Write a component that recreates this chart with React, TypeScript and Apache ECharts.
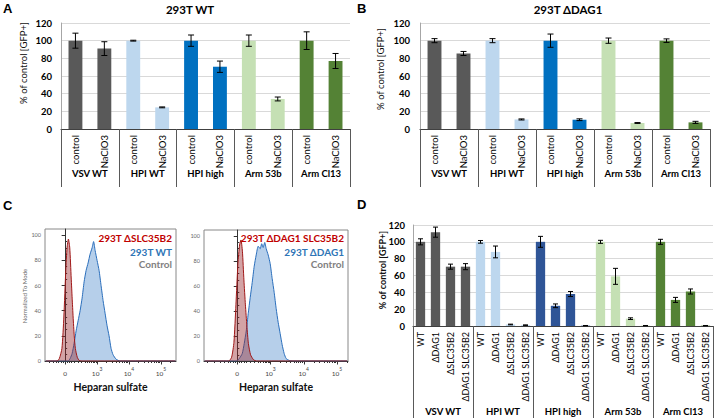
import React, { useEffect, useRef } from "react";
import * as echarts from "echarts";

// ---------- data ----------
const groups = ["VSV WT", "HPI WT", "HPI high", "Arm 53b", "Arm Cl13"];
const treatments = ["control", "NaClO3"];
const strains = ["WT", "ΔDAG1", "ΔSLC35B2", "ΔDAG1 SLC35B2"];

const aValues = [100, 91, 100, 24.5, 100, 70.5, 100, 34, 100, 77];
const aErrors = [8.5, 7.8, 0.5, 0.5, 6.4, 6.4, 6.4, 2.2, 10, 8.5];

const bValues = [100, 85.5, 100, 10.8, 100, 10.5, 100, 6.8, 100, 7.5];
const bErrors = [2.3, 2.3, 2.3, 0.6, 7.5, 1, 3, 0.5, 2, 1.2];

const dValues = [100, 111.5, 70.5, 70.5, 100, 88, 1.8, 1, 100, 24, 38, 0.4, 100, 59, 8.7, 0.4, 100, 31, 41, 0.4];
const dErrors = [3.6, 6, 3, 3.6, 1.6, 7, 0.4, 0.3, 6.5, 2.2, 3, 0.2, 1.8, 9.5, 1, 0.2, 3, 3, 3, 0.2];

const colorsAB = ["#595959", "#BDD7EE", "#0070C0", "#C5E0B4", "#548235"];
const colorsD = ["#595959", "#BDD7EE", "#2F5597", "#C5E0B4", "#548235"];

// histogram data: [display position, % of mode]
const leftRed = [[-0.6, 0], [-0.25, 0], [-0.18, 2], [-0.1, 10], [-0.04, 35], [0.02, 72], [0.06, 90], [0.103, 97], [0.145, 90], [0.19, 66], [0.22, 50], [0.25, 35], [0.285, 20], [0.32, 10], [0.38, 3], [0.44, 0.5], [0.52, 0], [3.45, 0]];
const leftBlue = [[-0.6, 0], [0.094, 0], [0.156, 2], [0.219, 6], [0.281, 14], [0.344, 24], [0.406, 32], [0.469, 40], [0.531, 50], [0.594, 63], [0.656, 72], [0.719, 78], [0.781, 85], [0.844, 90], [0.891, 95], [0.938, 88], [1.0, 80], [1.063, 72], [1.125, 60], [1.188, 48], [1.25, 38], [1.313, 28], [1.375, 20], [1.438, 10], [1.5, 5], [1.594, 1.5], [1.719, 0], [3.45, 0]];
const rightRed = [[-0.98, 0], [-0.26, 0], [-0.17, 3], [-0.1, 15], [-0.04, 45], [0.02, 78], [0.07, 93], [0.111, 97], [0.155, 88], [0.2, 65], [0.245, 45], [0.29, 28], [0.335, 14], [0.4, 5], [0.49, 1], [0.58, 0], [3.3, 0]];
const rightBlue = [[-0.98, 0], [-0.03, 0], [0.06, 2], [0.15, 6], [0.21, 14], [0.27, 24], [0.33, 38], [0.39, 51], [0.45, 63], [0.51, 76], [0.57, 85], [0.63, 92], [0.69, 90], [0.735, 94], [0.78, 91], [0.826, 95], [0.87, 90], [0.93, 85], [0.99, 78], [1.05, 66], [1.11, 55], [1.17, 42], [1.23, 31], [1.29, 22], [1.35, 13], [1.41, 6], [1.47, 2], [1.56, 0.5], [1.65, 0], [3.3, 0]];

const histMajorX = [0, 1, 2, 3];
const histExponents = ["", "3", "4", "5"];
const histMajorY = [0, 20, 40, 60, 80, 100];
const histMinorY = [5, 10, 15, 25, 30, 35, 45, 50, 55, 65, 70, 75, 85, 90, 95];
const histMinorNearZero = [-0.9, -0.7, -0.5, -0.38, -0.28, -0.2, -0.13, -0.07, 0.07, 0.13, 0.2, 0.28, 0.4, 0.52, 0.62, 0.7, 0.77, 0.83, 0.88, 0.92, 0.96];

const FONT = 'Lato, "Noto Sans", sans-serif';

function decadeMinors(maxV: number, minV: number) {
  const out: number[] = [];
  for (const v of histMinorNearZero) if (v > minV && v < maxV) out.push(v);
  for (let d = 1; d <= 3; d++) {
    for (let k = 2; k <= 9; k++) {
      const v = d + Math.log10(k);
      if (v < maxV) out.push(v);
    }
  }
  return out;
}

function errRender(half: number) {
  return (params: any, api: any) => {
    const x = api.value(0);
    const v = api.value(1);
    const e = api.value(2);
    const hi = api.coord([x, v + e]);
    const lo = api.coord([x, v - e]);
    const st = { stroke: "#000", lineWidth: 1 };
    return {
      type: "group",
      children: [
        { type: "line", shape: { x1: hi[0], y1: hi[1], x2: lo[0], y2: lo[1] }, style: st },
        { type: "line", shape: { x1: hi[0] - half, y1: hi[1], x2: hi[0] + half, y2: hi[1] }, style: st },
        { type: "line", shape: { x1: lo[0] - half, y1: lo[1], x2: lo[0] + half, y2: lo[1] }, style: st },
      ],
    };
  };
}

function barPanel(opts: {
  grid: number;
  xBase: number;
  yIndex: number;
  subs: string[];
  values: number[];
  errors: number[];
  colors: string[];
  groupMargin: number;
  tickLen: number;
  barWidth: string;
  labelSize: number;
  yMargin: number;
  cap: number;
}) {
  const cats = groups.flatMap((g) => opts.subs.map((s) => g + "|" + s));
  const per = opts.subs.length;
  const xAxes = [
    {
      type: "category",
      gridIndex: opts.grid,
      position: "bottom",
      data: cats,
      axisLine: { show: true, lineStyle: { color: "#404040", width: 1 } },
      axisTick: { show: false },
      splitLine: { show: false },
      axisLabel: {
        interval: 0,
        rotate: 90,
        margin: 6,
        fontSize: opts.labelSize,
        fontFamily: FONT,
        color: "#000",
        formatter: (v: string) => v.split("|")[1],
      },
    },
    {
      type: "category",
      gridIndex: opts.grid,
      position: "bottom",
      data: groups,
      axisLine: { show: false },
      axisTick: { show: true, interval: 0, length: opts.tickLen, lineStyle: { color: "#595959", width: 1 } },
      splitLine: { show: false },
      axisLabel: {
        interval: 0,
        margin: opts.groupMargin,
        fontSize: 9.5,
        fontWeight: "bold",
        fontFamily: FONT,
        color: "#000",
      },
    },
  ];
  const yAxis = {
    type: "value",
    gridIndex: opts.grid,
    min: 0,
    max: 120,
    interval: 20,
    axisLine: { show: true, lineStyle: { color: "#A6A6A6" } },
    axisTick: { show: false },
    splitLine: { show: true, lineStyle: { color: "#D9D9D9", width: 1 } },
    axisLabel: { fontSize: 9.5, fontWeight: "bold", fontFamily: FONT, color: "#000", margin: opts.yMargin },
  };
  const series = [
    {
      type: "bar",
      xAxisIndex: opts.xBase,
      yAxisIndex: opts.yIndex,
      barWidth: opts.barWidth,
      data: opts.values.map((v, i) => ({ value: v, itemStyle: { color: opts.colors[Math.floor(i / per)] } })),
    },
    {
      type: "custom",
      xAxisIndex: opts.xBase,
      yAxisIndex: opts.yIndex,
      z: 5,
      encode: { x: 0, y: [1] },
      data: opts.values.map((v, i) => [i, v, opts.errors[i]]),
      renderItem: errRender(opts.cap),
    },
  ];
  return { xAxes, yAxis, series };
}

function histPanel(opts: { grid: number; xBase: number; yBase: number; min: number; max: number; red: number[][]; blue: number[][] }) {
  const labelFmt = (v: number) => {
    const i = histMajorX.indexOf(v);
    if (i <= 0) return "{n|0}";
    return "{n|10}{s|" + histExponents[i] + "}";
  };
  const xAxes = [
    {
      type: "value",
      gridIndex: opts.grid,
      position: "bottom",
      min: opts.min,
      max: opts.max,
      axisLine: { show: true, lineStyle: { color: "#333", width: 1 } },
      axisTick: { show: true, customValues: histMajorX, length: 3.5, lineStyle: { color: "#333" } },
      splitLine: { show: false },
      axisLabel: {
        customValues: histMajorX,
        margin: 5,
        formatter: labelFmt,
        rich: {
          n: { fontSize: 6.5, color: "#444", fontFamily: FONT, lineHeight: 11, verticalAlign: "bottom" },
          s: { fontSize: 5, color: "#444", fontFamily: FONT, lineHeight: 11, verticalAlign: "top" },
        },
      },
      name: "Heparan sulfate",
      nameLocation: "middle",
      nameGap: 20,
      nameTextStyle: { fontSize: 10.5, fontWeight: "bold", fontFamily: FONT, color: "#111" },
    },
    {
      type: "value",
      gridIndex: opts.grid,
      position: "bottom",
      min: opts.min,
      max: opts.max,
      axisLine: { show: false },
      axisTick: { show: true, customValues: decadeMinors(opts.max, opts.min), length: 2, lineStyle: { color: "#333" } },
      splitLine: { show: false },
      axisLabel: { show: false },
    },
  ];
  const yAxes = [
    {
      type: "value",
      gridIndex: opts.grid,
      min: 0,
      max: 105,
      axisLine: { show: true, lineStyle: { color: "#333" } },
      axisTick: { show: true, customValues: histMajorY, length: 3.5, lineStyle: { color: "#333" } },
      splitLine: { show: false },
      axisLabel: { customValues: histMajorY, fontSize: 5.5, color: "#666", fontFamily: FONT, margin: 4 },
    },
    {
      type: "value",
      gridIndex: opts.grid,
      min: 0,
      max: 105,
      axisLine: { show: false },
      axisTick: { show: true, customValues: histMinorY, length: 2, lineStyle: { color: "#333" } },
      splitLine: { show: false },
      axisLabel: { show: false },
    },
  ];
  const series = [
    {
      type: "line",
      xAxisIndex: opts.xBase,
      yAxisIndex: opts.yBase,
      data: opts.blue,
      showSymbol: false,
      smooth: 0.2,
      lineStyle: { color: "#2A6EBB", width: 1 },
      areaStyle: { color: "rgba(80,140,205,0.6)" },
      z: 2,
    },
    {
      type: "line",
      xAxisIndex: opts.xBase,
      yAxisIndex: opts.yBase,
      data: opts.red,
      showSymbol: false,
      smooth: 0.2,
      lineStyle: { color: "#A01818", width: 1 },
      areaStyle: { color: "rgba(150,35,40,0.6)" },
      z: 3,
    },
  ];
  return { xAxes, yAxes, series };
}

export default function App() {
  const ref = useRef<HTMLDivElement>(null);
  useEffect(() => {
    if (!ref.current) return;
    const chart = echarts.init(ref.current, null, { renderer: "svg" });

    const A = barPanel({ grid: 0, xBase: 0, yIndex: 0, subs: treatments, values: aValues, errors: aErrors, colors: colorsAB, groupMargin: 39, tickLen: 58, barWidth: "48%", labelSize: 9.5, yMargin: 9, cap: 3 });
    const B = barPanel({ grid: 1, xBase: 2, yIndex: 1, subs: treatments, values: bValues, errors: bErrors, colors: colorsAB, groupMargin: 39, tickLen: 58, barWidth: "48%", labelSize: 9.5, yMargin: 10, cap: 3 });
    const CL = histPanel({ grid: 2, xBase: 4, yBase: 2, min: -0.63, max: 3.47, red: leftRed, blue: leftBlue });
    const CR = histPanel({ grid: 3, xBase: 6, yBase: 4, min: -1.0, max: 3.33, red: rightRed, blue: rightBlue });
    const D = barPanel({ grid: 4, xBase: 8, yIndex: 6, subs: strains, values: dValues, errors: dErrors, colors: colorsD, groupMargin: 80, tickLen: 92, barWidth: "62%", labelSize: 9, yMargin: 8, cap: 2.5 });

    const txt = (x: number, y: number, text: string, font: string, fill: string, align = "left", rot = 0) => ({
      type: "text",
      x,
      y,
      rotation: rot,
      style: { text, font, fill, textAlign: align, textVerticalAlign: "middle" },
      z: 10,
    });

    const option: any = {
      animation: false,
      backgroundColor: "#fff",
      grid: [
        { left: 61, top: 23, width: 289, height: 106 },
        { left: 420, top: 23, width: 290, height: 106 },
        { left: 45, top: 229, width: 131, height: 132, show: true, borderColor: "#888", borderWidth: 1 },
        { left: 204, top: 230, width: 144, height: 131, show: true, borderColor: "#888", borderWidth: 1 },
        { left: 413, top: 225, width: 300, height: 101 },
      ],
      xAxis: [...A.xAxes, ...B.xAxes, ...CL.xAxes, ...CR.xAxes, ...D.xAxes],
      yAxis: [A.yAxis, B.yAxis, ...CL.yAxes, ...CR.yAxes, D.yAxis],
      series: [...A.series, ...B.series, ...CL.series, ...CR.series, ...D.series],
      graphic: [
        txt(3, 8, "A", 'bold 13px "Liberation Sans", Arial, sans-serif', "#000"),
        txt(357, 8, "B", 'bold 13px "Liberation Sans", Arial, sans-serif', "#000"),
        txt(3, 205, "C", 'bold 13px "Liberation Sans", Arial, sans-serif', "#000"),
        txt(357, 204, "D", 'bold 13px "Liberation Sans", Arial, sans-serif', "#000"),
        txt(190, 9, "293T WT", "bold 11.5px " + FONT, "#000", "center"),
        txt(568, 9, "293T ΔDAG1", "bold 11.5px " + FONT, "#000", "center"),
        txt(23, 63, "% of control [GFP+]", "9.5px " + FONT, "#111", "center", Math.PI / 2),
        txt(380, 69, "% of control [GFP+]", "9.5px " + FONT, "#111", "center", Math.PI / 2),
        txt(382, 270, "% of control [GFP+]", "bold 9px " + FONT, "#111", "center", Math.PI / 2),
        txt(24, 296, "Normalized To Mode", "6px " + FONT, "#666", "center", Math.PI / 2),
        txt(172, 238, "293T ΔSLC35B2", "bold 10px " + FONT, "#C00000", "right"),
        txt(172, 252, "293T WT", "bold 10px " + FONT, "#2E75B6", "right"),
        txt(172, 264, "Control", "bold 10px " + FONT, "#808080", "right"),
        txt(344, 238, "293T ΔDAG1 SLC35B2", "bold 10px " + FONT, "#C00000", "right"),
        txt(344, 252, "293T ΔDAG1", "bold 10px " + FONT, "#2E75B6", "right"),
        txt(344, 264, "Control", "bold 10px " + FONT, "#808080", "right"),
      ],
    };
    chart.setOption(option);
    return () => chart.dispose();
  }, []);
  return <div ref={ref} style={{ position: "fixed", left: 0, top: 0, width: 715, height: 418 }} />;
}
